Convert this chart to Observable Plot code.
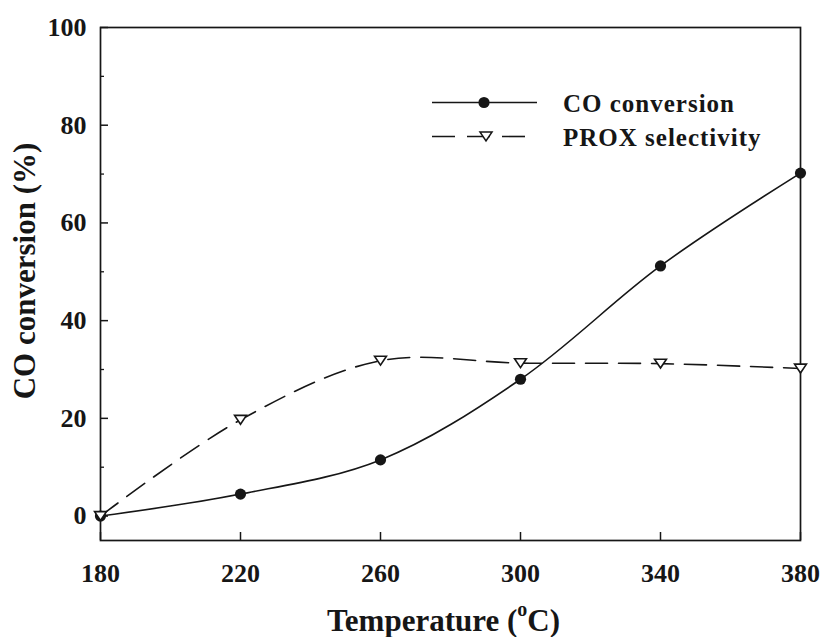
<!DOCTYPE html>
<html><head><meta charset="utf-8">
<script src="https://cdn.jsdelivr.net/npm/d3@7"></script>
<script src="https://cdn.jsdelivr.net/npm/@observablehq/plot@0.6"></script>
<style>
body{margin:0;background:#fff;}
#wrap{position:relative;width:825px;height:637px;font-family:"Liberation Serif","Times New Roman",serif;}
#legend{position:absolute;left:0;top:0;pointer-events:none;}
</style></head><body><div id="wrap"></div>
<script>
// ---- data ----
const temperatures = [180, 220, 260, 300, 340, 380];
const coConversion = [0, 4.5, 11.5, 28.0, 51.2, 70.2];
const proxSelectivity = [0, 19.7, 31.8, 31.3, 31.2, 30.2];
const xTicks = [180, 220, 260, 300, 340, 380];
const yTicks = [0, 20, 40, 60, 80, 100];
const yMinorTicks = [10, 30, 50, 70, 90];
const seriesNames = ["CO conversion", "PROX selectivity"];
const xTitle = "Temperature (oC)";
const yTitle = "CO conversion (%)";

const co = temperatures.map((t, i) => ({t, v: coConversion[i]}));
const prox = temperatures.map((t, i) => ({t, v: proxSelectivity[i]}));

const ink = "#161616";
const triangleDown = {
  draw(ctx, size) {
    const r = Math.sqrt(size / Math.PI);
    const w = r * 1.1, h = r * 0.82;
    ctx.moveTo(-w, -h);
    ctx.lineTo(w, -h);
    ctx.lineTo(0, h);
    ctx.closePath();
  }
};

const chart = Plot.plot({
  width: 825, height: 637,
  marginLeft: 100, marginRight: 25, marginTop: 27, marginBottom: 97,
  style: {fontFamily: '"Liberation Serif","Times New Roman",serif', color: ink, background: "#fff", overflow: "visible"},
  x: {domain: [180, 380], label: null},
  y: {domain: [-5, 100], label: null},
  marks: [
    Plot.axisX({ticks: xTicks, tickSize: 0, tickPadding: 23, fontSize: 26, fontWeight: "bold", label: null, tickFormat: d => String(d)}),
    Plot.axisX({ticks: xTicks, tickSize: -8, fill: "none", strokeWidth: 1.5, label: null}),
    Plot.axisY({ticks: yTicks, tickSize: 0, tickPadding: 14, fontSize: 26, fontWeight: "bold", label: null, tickFormat: d => String(d)}),
    Plot.axisY({ticks: yTicks, tickSize: -8, fill: "none", strokeWidth: 1.5, label: null}),
    Plot.axisY({ticks: yMinorTicks, tickSize: -4, fill: "none", strokeWidth: 1.3, label: null}),
    Plot.frame({stroke: ink, strokeWidth: 1.7}),
    Plot.line(prox, {x: "t", y: "v", curve: "catmull-rom", stroke: ink, strokeWidth: 1.6, strokeDasharray: "22,11"}),
    Plot.line(co, {x: "t", y: "v", curve: "catmull-rom", stroke: ink, strokeWidth: 1.6}),
    Plot.dot(co, {x: "t", y: "v", r: 5.6, fill: ink, stroke: "none"}),
    Plot.dot(prox, {x: "t", y: "v", r: 5.4, symbol: triangleDown, fill: "#fff", stroke: ink, strokeWidth: 1.6}),
    Plot.text([xTitle], {frameAnchor: "bottom", textAnchor: "middle", dy: 90, dx: -7, lineAnchor: "bottom", fontSize: 31, fontWeight: "bold", fill: ink}),
    Plot.text([yTitle], {frameAnchor: "left", textAnchor: "middle", rotate: -90, dx: -66, dy: -13, lineAnchor: "bottom", fontSize: 31, fontWeight: "bold", fill: ink})
  ]
});
document.getElementById("wrap").appendChild(chart);

// superscript "o" in the x title
d3.select(chart).selectAll("text").filter(function() { return this.textContent === xTitle; })
  .each(function() {
    const t = d3.select(this);
    t.text(null);
    t.append("tspan").text("Temperature (");
    t.append("tspan").attr("font-size", 20).attr("dy", -15).text("o");
    t.append("tspan").attr("dy", 15).text("C)");
  });

// legend (inside the plot area, top right)
const lg = d3.select("#wrap").append("svg").attr("id", "legend")
  .attr("width", 825).attr("height", 637);
const rows = [
  {name: seriesNames[0], y: 102.5, x1: 432, x2: 537, mx: 484, dash: null, sym: "circle"},
  {name: seriesNames[1], y: 136.5, x1: 432, x2: 527, mx: 486, dash: "23,12", sym: "tri"}
];
rows.forEach((r, i) => {
  lg.append("line").attr("x1", r.x1).attr("x2", r.x2).attr("y1", r.y).attr("y2", r.y)
    .attr("stroke", ink).attr("stroke-width", 1.6).attr("stroke-dasharray", r.dash);
  if (r.sym === "circle") {
    lg.append("circle").attr("cx", r.mx).attr("cy", r.y).attr("r", 5.6).attr("fill", ink);
  } else {
    lg.append("path").attr("transform", `translate(${r.mx},${r.y})`)
      .attr("d", d3.symbol(triangleDown, Math.PI * 5.4 * 5.4)())
      .attr("fill", "#fff").attr("stroke", ink).attr("stroke-width", 1.6);
  }
  lg.append("text").attr("x", 563).attr("y", r.y + 9.5)
    .attr("font-family", '"Liberation Serif","Times New Roman",serif')
    .attr("font-size", 25).attr("font-weight", "bold").attr("letter-spacing", 1)
    .attr("fill", ink).text(r.name);
});
</script>
</body></html>
